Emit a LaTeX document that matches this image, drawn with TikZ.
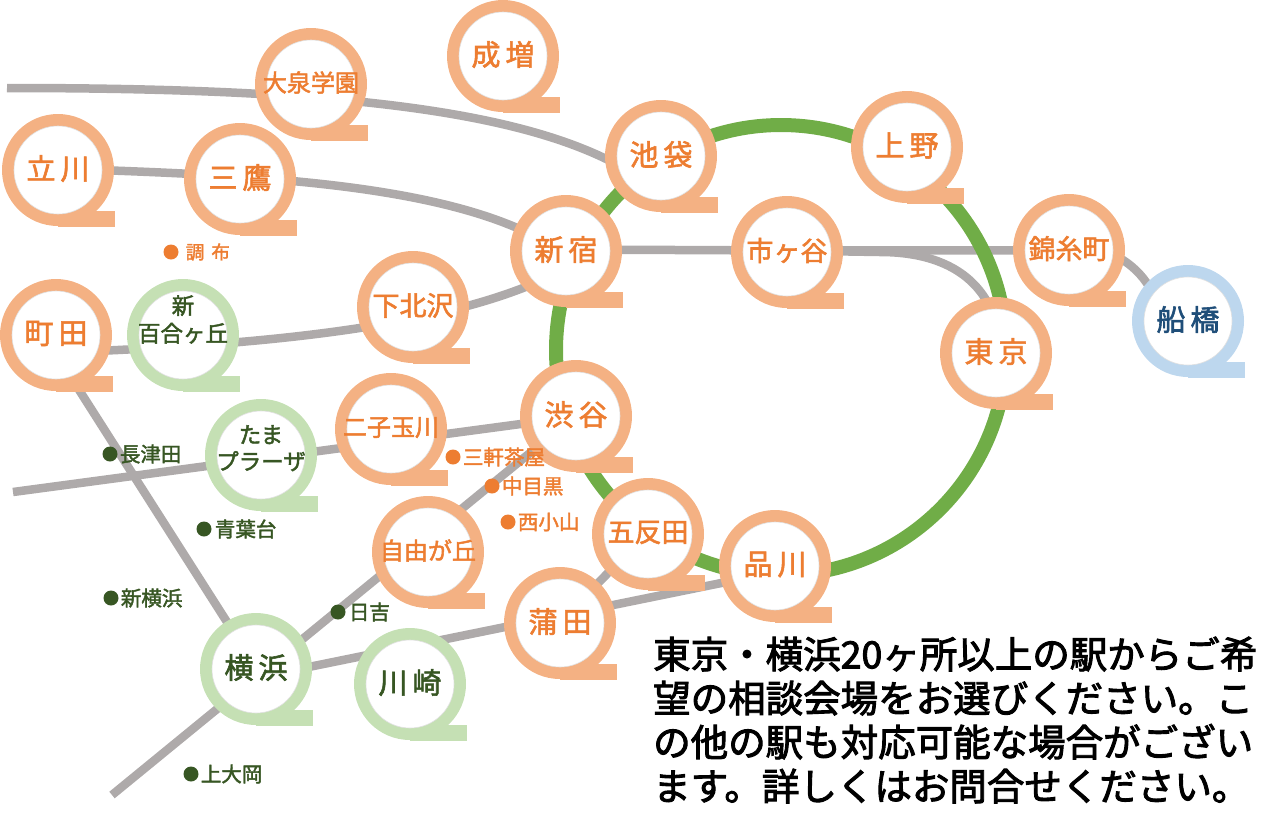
\documentclass[tikz,border=0pt]{standalone}
\usepackage{fontspec}
\setmainfont{Noto Sans CJK JP}[RawFeature={embolden=2}]
\newfontfamily\noteFont{Noto Sans CJK JP}[RawFeature={embolden=2.5}]
\usepackage{tikz}
\usetikzlibrary{positioning}
\usetikzlibrary{backgrounds}
\definecolor{ringOrange}{HTML}{F4B183}
\definecolor{ringGreen}{HTML}{C5E0B4}
\definecolor{ringBlue}{HTML}{BDD7EE}
\definecolor{textOrange}{HTML}{ED7D31}
\definecolor{textGreen}{HTML}{375623}
\definecolor{textBlue}{HTML}{1F4E79}
\definecolor{lineGray}{HTML}{AEAAAA}
\definecolor{loopGreen}{HTML}{70AD47}
\newcommand{\twoKanji}[2]{\fontsize{29}{29}\selectfont #1\hspace{5pt}#2}
\newcommand{\threeKanji}[1]{\fontsize{27}{27}\selectfont #1}
\newcommand{\fourKanji}[1]{\fontsize{24}{24}\selectfont #1}
\newcommand{\twoRows}[3]{\fontsize{22.5}{22.5}\selectfont #1\\[6pt]\fontsize{22.5}{22.5}\selectfont #2\\[#3]}
\newcommand{\drawPin}[3]{
		\fill[#1] (0,0) circle (56);
		\fill[#1] (0,41) rectangle (57,57);
		\filldraw[fill=white, draw=black!12, line width=0.6pt] (0,0) circle (44);
		\node[pinLabel, text=#2] (-c) at (0,-1.5) {#3};
}
\tikzset{
	pinLabel/.style={circle, minimum size=100pt, inner sep=0pt, align=center},
	orangePin/.pic={\drawPin{ringOrange}{textOrange}{#1}},
	greenPin/.pic={\drawPin{ringGreen}{textGreen}{#1}},
	bluePin/.pic={\drawPin{ringBlue}{textBlue}{#1}},
	railLine/.style={lineGray, line width=8.5pt},
	loopLine/.style={circle, draw=loopGreen, line width=14pt, minimum size=450pt, inner sep=0pt, outer sep=0pt},
	orangeDot/.style={circle, fill=textOrange, minimum size=15pt, inner sep=0pt},
	greenDot/.style={circle, fill=textGreen, minimum size=15pt, inner sep=0pt},
	orangeName/.style={text=textOrange, inner sep=0pt, font=\fontsize{20.5}{20.5}\selectfont},
	greenName/.style={text=textGreen, inner sep=0pt, font=\fontsize{20.5}{20.5}\selectfont}
}

\begin{document}
\begin{tikzpicture}[x=1pt, y=-1pt]
	\useasboundingbox (0,0) rectangle (1280,831);
	% stations
	\pic (narimasu) at (503,56) {orangePin={\twoKanji{成}{増}}};
	\pic (oizumi) at (311,84) {orangePin={\fourKanji{大泉学園}}};
	\pic (tachikawa) at (58,170) {orangePin={\twoKanji{立}{川}}};
	\pic (mitaka) at (240,179) {orangePin={\twoKanji{三}{鷹}}};
	\pic (shinjuku) at (566,251) {orangePin={\twoKanji{新}{宿}}};
	\pic (shimokita) at (413,307) {orangePin={\threeKanji{下北沢}}};
	\pic (machida) at (56,335) {orangePin={\twoKanji{町}{田}}};
	\pic (yurigaoka) at (183,335) {greenPin={\twoRows{新}{百合ヶ丘}{18pt}}};
	\pic (ikebukuro) at (661,156) {orangePin={\twoKanji{池}{袋}}};
	\pic (ueno) at (907,147) {orangePin={\twoKanji{上}{野}}};
	\pic (ichigaya) at (787,252) {orangePin={\threeKanji{市ヶ谷}}};
	\pic (kinshicho) at (1069,250) {orangePin={\threeKanji{錦糸町}}};
	\pic (tokyo) at (996,353) {orangePin={\twoKanji{東}{京}}};
	\pic (funabashi) at (1188,321) {bluePin={\twoKanji{船}{橋}}};
	\pic (tamaplaza) at (261,455) {greenPin={\twoRows{たま}{プラーザ}{0pt}}};
	\pic (futako) at (391,429) {orangePin={\fourKanji{二子玉川}}};
	\pic (shibuya) at (576,416) {orangePin={\twoKanji{渋}{谷}}};
	\pic (jiyugaoka) at (428,552) {orangePin={\fourKanji{自由が丘}}};
	\pic (gotanda) at (648,534) {orangePin={\threeKanji{五反田}}};
	\pic (kamata) at (560,623) {orangePin={\twoKanji{蒲}{田}}};
	\pic (yokohama) at (256,669) {greenPin={\twoKanji{横}{浜}}};
	\pic (kawasaki) at (410,684) {greenPin={\twoKanji{川}{崎}}};
	\pic (shinagawa) at (775,566) {orangePin={\twoKanji{品}{川}}};
	% free line ends
	\coordinate (oizumiEnd) at (7,88);
	\coordinate (futakoEnd) at (13,492);
	\coordinate (ookaEnd) at (112,795);
	\coordinate (tokyoBranch) at (880,252);
	\begin{scope}[on background layer]
		\draw[railLine] (oizumiEnd) .. controls (300,88) and (500,105) .. (ikebukuro-c.188);
		\draw[railLine] (tachikawa-c) .. controls (260,176) and (420,185) .. (shinjuku-c);
		\draw[railLine] (machida-c.-20) .. controls (300,342) and (440,322) .. (shinjuku-c.225);
		\draw[railLine] (futakoEnd) -- (shibuya-c.190);
		\draw[railLine] (machida-c.-70) -- (yokohama-c);
		\draw[railLine] (ookaEnd) -- (shibuya-c.220);
		\draw[railLine] (yokohama-c.0) -- (shinagawa-c.200);
		\draw[railLine] (gotanda-c) -- (kamata-c);
		\draw[railLine] (shinjuku-c) -- (ichigaya-c) -- (kinshicho-c.182);
		\draw[railLine] (kinshicho-c.-10) .. controls (1132,265) and (1142,275) .. (funabashi-c.140);
		\draw[railLine] (ichigaya-c) -- (tokyoBranch) .. controls (930,252) and (968,268) .. (tokyo-c.100);
		\node[loopLine] (yamanote) at (781,350) {};
	\end{scope}
	% small stops
	\node[orangeDot] (chofu) at (171,252) {};
	\node[orangeName, font=\fontsize{18.5}{18.5}\selectfont, right=7pt of chofu] (chofuName) {調\hspace{7pt}布};
	\node[greenDot] (nagatsuta) at (110,454) {};
	\node[greenName, right=2pt of nagatsuta] (nagatsutaName) {長津田};
	\node[greenDot] (aobadai) at (204,529) {};
	\node[greenName, right=3pt of aobadai] (aobadaiName) {青葉台};
	\node[greenDot] (shinyoko) at (111,598) {};
	\node[greenName, right=2pt of shinyoko] (shinyokoName) {新横浜};
	\node[greenDot] (hiyoshi) at (338,612) {};
	\node[greenName, right=3pt of hiyoshi] (hiyoshiName) {日吉};
	\node[greenDot] (kamiooka) at (191,774) {};
	\node[greenName, right=2pt of kamiooka] (kamiookaName) {上大岡};
	\node[orangeDot] (sangenjaya) at (453,457) {};
	\node[orangeName, right=2pt of sangenjaya] (sangenjayaName) {三軒茶屋};
	\node[orangeDot] (nakameguro) at (492,486) {};
	\node[orangeName, right=2pt of nakameguro] (nakameguroName) {中目黒};
	\node[orangeDot] (nishikoyama) at (508,522) {};
	\node[orangeName, right=2pt of nishikoyama] (nishikoyamaName) {西小山};
	% note
	\node[anchor=west, inner sep=0pt, align=left, font=\noteFont\fontsize{37.5}{44}\selectfont] (note) at (653,720) {東京・横浜20ヶ所以上の駅からご希\\望の相談会場をお選びください。こ\\の他の駅も対応可能な場合がござい\\ます。詳しくはお問合せください。};
\end{tikzpicture}
\end{document}
